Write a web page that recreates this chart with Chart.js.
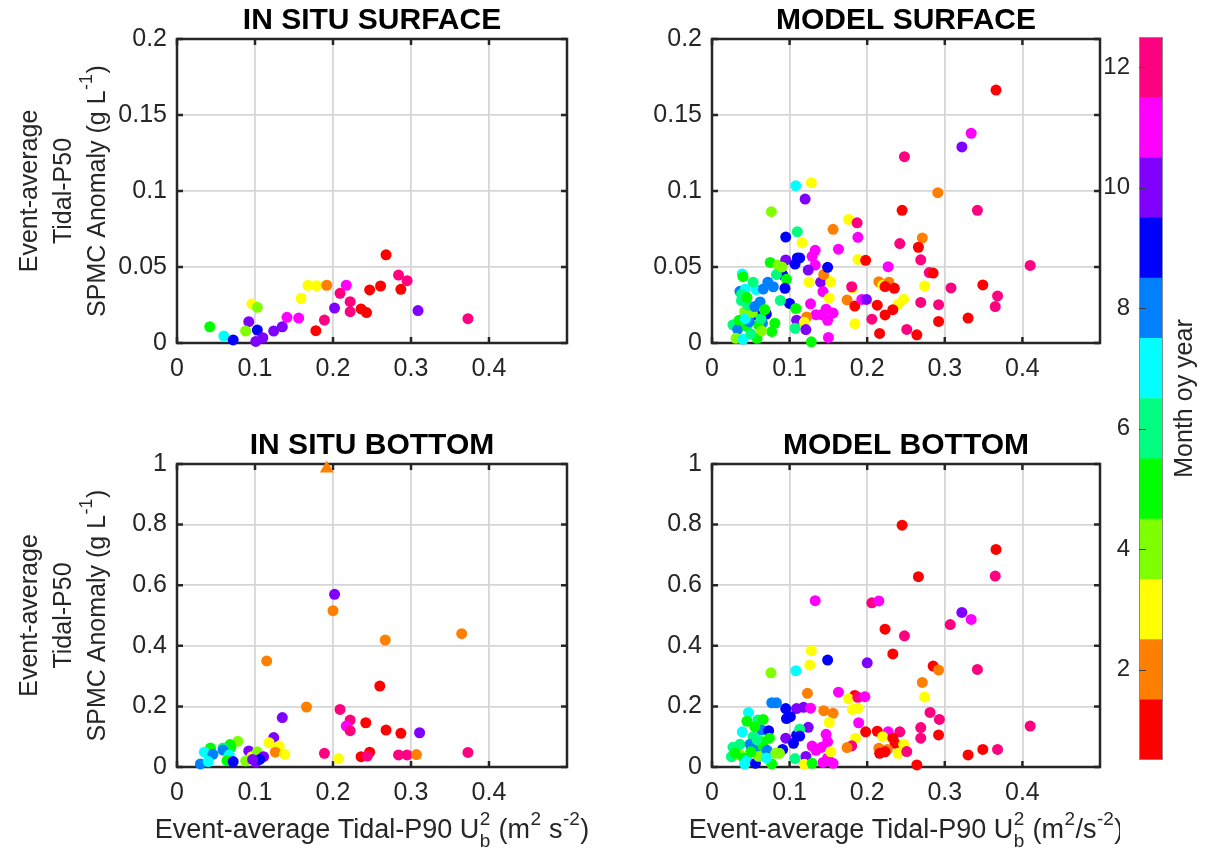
<!DOCTYPE html>
<html>
<head>
<meta charset="utf-8">
<script src="https://cdn.jsdelivr.net/npm/chart.js@4.4.0/dist/chart.umd.min.js"></script>
<style>
  body { margin: 0; background: #fff; width: 1207px; height: 858px; overflow: hidden; position: relative; }
</style>
</head>
<body>
<script>
// ---- tick labels ----
const xTickVals = [0, 0.1, 0.2, 0.3, 0.4];
const xTickLabels = ['0', '0.1', '0.2', '0.3', '0.4'];
const ySurfTickVals = [0, 0.05, 0.1, 0.15, 0.2];
const ySurfTickLabels = ['0', '0.05', '0.1', '0.15', '0.2'];
const yBotTickVals = [0, 0.2, 0.4, 0.6, 0.8, 1];
const yBotTickLabels = ['0', '0.2', '0.4', '0.6', '0.8', '1'];
const cbTickVals = [2, 4, 6, 8, 10, 12];
const cbTickLabels = ['2', '4', '6', '8', '10', '12'];

// month of year -> colour (hsv, 12 steps)
const months = [1, 2, 3, 4, 5, 6, 7, 8, 9, 10, 11, 12];
const monthColors = ['#ff0000', '#ff8000', '#ffff00', '#80ff00', '#00ff00', '#00ff80',
                     '#00ffff', '#0080ff', '#0000ff', '#8000ff', '#ff00ff', '#ff0080'];

// ---- IN SITU SURFACE ----
const isSurfX = [0.042,0.060,0.072,0.092,0.096,0.103,0.088,0.103,0.101,0.110,0.124,0.135,0.141,0.156,0.159,0.168,0.179,0.192,0.178,0.189,0.202,0.217,0.209,0.222,0.222,0.236,0.243,0.247,0.261,0.268,0.284,0.295,0.287,0.309,0.373];
const isSurfY = [0.0107,0.0046,0.002,0.014,0.0257,0.0235,0.0079,0.0085,0.001,0.0035,0.0079,0.0107,0.0169,0.0164,0.0294,0.038,0.0377,0.038,0.0081,0.0151,0.023,0.038,0.0327,0.0272,0.0206,0.0224,0.020,0.0349,0.0375,0.058,0.0447,0.041,0.0353,0.0213,0.016];
const isSurfM = [5,7,9,10,3,4,4,9,10,10,10,10,11,11,3,3,3,2,1,12,10,11,12,12,12,1,1,1,1,1,12,12,1,10,12];

// ---- MODEL SURFACE ----
const mdSurfX = [0.039,0.040,0.036,0.043,0.057,0.038,0.066,0.072,0.079,0.0765,0.075,0.085,0.095,0.095,0.110,0.108,0.107,0.110,0.091,0.096,0.094,0.100,0.108,0.109,0.056,0.070,0.062,0.065,0.027,0.033,0.031,0.040,0.058,0.077,0.107,0.042,0.038,0.045,0.060,0.063,0.048,0.035,0.043,0.052,0.046,0.055,0.068,0.050,0.064,0.081,0.088,0.083,0.090,0.053,0.045,
  0.366,0.334,0.322,0.248,0.291,0.128,0.120,0.245,0.342,0.176,0.187,0.156,0.116,0.188,0.163,0.133,0.129,0.133,0.113,0.124,0.140,0.125,0.153,0.144,0.149,0.143,0.151,0.188,0.198,0.227,0.242,0.271,0.266,0.269,0.280,0.285,0.274,0.308,0.349,0.368,0.365,0.215,0.220,0.228,0.223,0.235,0.247,0.240,0.233,0.213,0.223,0.206,0.216,0.251,0.264,0.269,0.292,0.292,0.330,0.174,0.184,0.193,0.199,0.181,0.180,0.184,0.127,0.147,0.156,0.134,0.149,0.141,0.122,0.119,0.121,0.150,0.128,0.410];
const mdSurfY = [0.0454,0.0436,0.034,0.0355,0.0351,0.032,0.0355,0.040,0.037,0.0864,0.053,0.0513,0.0546,0.0697,0.0732,0.1035,0.0519,0.056,0.045,0.0419,0.036,0.026,0.0227,0.015,0.0187,0.019,0.027,0.013,0.012,0.009,0.0031,0.0024,0.0031,0.0075,0.0097,0.0206,0.0279,0.011,0.012,0.016,0.014,0.015,0.016,0.020,0.025,0.024,0.022,0.006,0.008,0.013,0.028,0.045,0.050,0.040,0.030,
  0.1664,0.138,0.129,0.1226,0.0989,0.1055,0.0947,0.0873,0.0873,0.0813,0.0791,0.0748,0.066,0.0695,0.0617,0.061,0.057,0.0513,0.056,0.048,0.040,0.040,0.0403,0.0451,0.0498,0.0338,0.0295,0.0550,0.0544,0.0502,0.0654,0.0691,0.063,0.0547,0.0463,0.046,0.0375,0.0362,0.0382,0.031,0.024,0.0403,0.038,0.040,0.0371,0.036,0.0288,0.0255,0.0219,0.0249,0.0185,0.0157,0.0063,0.0089,0.0054,0.0267,0.0252,0.0142,0.0164,0.0283,0.0243,0.0287,0.0287,0.036,0.037,0.0127,0.0258,0.0222,0.0197,0.0186,0.0149,0.0186,0.0171,0.0136,0.0088,0.0037,0.0008,0.051];
const mdSurfM = [7,5,8,7,7,6,8,8,8,4,5,4,10,9,6,7,9,9,9,5,9,9,5,10,9,9,8,8,6,8,4,7,5,5,6,4,6,5,5,6,8,5,7,4,6,8,5,6,4,5,6,6,4,6,5,
  1,11,10,12,2,3,10,1,12,3,12,2,3,11,11,11,11,11,9,10,10,3,3,2,9,11,3,3,1,11,12,2,1,12,12,1,3,12,1,12,12,2,3,2,1,1,3,3,1,1,1,12,1,12,1,12,12,1,1,2,1,11,10,3,12,3,11,11,11,11,11,11,2,3,10,11,5,12];

// ---- IN SITU BOTTOM ----
const isBotX = [0.202,0.200,0.267,0.115,0.260,0.166,0.209,0.135,0.222,0.217,0.222,0.242,0.268,0.287,0.311,0.124,0.118,0.131,0.126,0.138,0.189,0.207,0.236,0.247,0.244,0.284,0.295,0.307,0.078,0.068,0.069,0.043,0.059,0.035,0.046,0.059,0.067,0.030,0.040,0.064,0.072,0.092,0.096,0.103,0.088,0.101,0.111,0.106,0.097,0.373,0.365];
const isBotY = [0.570,0.516,0.419,0.350,0.267,0.198,0.190,0.163,0.155,0.135,0.120,0.146,0.122,0.111,0.113,0.097,0.080,0.069,0.049,0.042,0.045,0.028,0.034,0.049,0.036,0.040,0.040,0.041,0.085,0.074,0.065,0.063,0.063,0.049,0.042,0.056,0.040,0.010,0.018,0.021,0.018,0.053,0.034,0.050,0.020,0.016,0.034,0.025,0.025,0.048,0.440];
const isBotM = [10,2,2,2,1,2,12,10,12,11,12,1,1,1,10,10,3,3,2,3,12,3,1,1,12,12,12,2,4,5,5,5,6,7,8,8,7,8,7,5,9,10,3,4,4,10,10,9,10,12,2];
// value above the axis limit, shown as a triangle at the top
const isBotOverX = [0.192];
const isBotOverY = [0.985];
const isBotOverM = [2];

// ---- MODEL BOTTOM ----
const mdBotX = [0.076,0.108,0.077,0.083,0.095,0.109,0.096,0.101,0.047,0.045,0.059,0.066,0.064,0.073,0.039,0.055,0.053,0.074,0.095,0.105,0.109,0.107,0.091,0.087,0.027,0.025,0.036,0.036,0.041,0.049,0.045,0.055,0.066,0.056,0.042,0.077,0.069,0.060,0.071,0.082,0.050,0.062,0.030,0.070,0.058,
  0.245,0.366,0.365,0.266,0.133,0.206,0.215,0.322,0.334,0.307,0.223,0.248,0.233,0.128,0.126,0.149,0.200,0.285,0.292,0.342,0.271,0.274,0.123,0.163,0.184,0.176,0.188,0.197,0.118,0.127,0.144,0.156,0.181,0.188,0.151,0.189,0.281,0.293,0.124,0.113,0.113,0.147,0.149,0.198,0.213,0.227,0.242,0.220,0.233,0.236,0.247,0.269,0.269,0.292,0.185,0.180,0.174,0.215,0.226,0.216,0.223,0.240,0.251,0.264,0.330,0.349,0.368,0.129,0.134,0.141,0.143,0.156,0.149,0.121,0.119,0.129,0.153,0.410];
const mdBotY = [0.311,0.318,0.212,0.212,0.193,0.193,0.160,0.166,0.180,0.151,0.155,0.157,0.122,0.120,0.116,0.133,0.100,0.095,0.095,0.078,0.105,0.028,0.058,0.045,0.065,0.034,0.075,0.040,0.029,0.075,0.022,0.055,0.068,0.012,0.010,0.010,0.045,0.035,0.055,0.045,0.050,0.085,0.045,0.030,0.090,
  0.798,0.718,0.630,0.628,0.549,0.542,0.548,0.510,0.487,0.470,0.455,0.433,0.373,0.384,0.337,0.353,0.344,0.333,0.320,0.322,0.279,0.231,0.243,0.247,0.236,0.225,0.230,0.232,0.197,0.194,0.186,0.177,0.190,0.194,0.147,0.146,0.180,0.157,0.131,0.125,0.102,0.108,0.083,0.116,0.118,0.116,0.116,0.100,0.095,0.078,0.075,0.130,0.095,0.106,0.095,0.070,0.064,0.062,0.058,0.045,0.050,0.045,0.051,0.007,0.040,0.058,0.058,0.069,0.055,0.065,0.015,0.012,0.030,0.035,0.009,0.012,0.050,0.135];
const mdBotM = [4,7,8,8,9,10,9,9,7,5,6,5,8,9,7,5,6,5,10,9,9,6,9,4,6,6,6,4,5,8,7,8,5,9,7,5,6,4,8,4,5,5,5,7,6,
  1,1,12,1,11,12,11,10,11,12,1,12,1,3,3,9,10,1,2,12,2,3,2,11,1,3,12,11,10,11,2,2,3,3,3,11,12,12,10,6,9,11,11,1,1,11,12,3,1,1,3,12,12,1,3,12,2,2,2,1,1,3,12,1,1,1,12,11,11,11,11,11,11,10,3,5,3,12];

// ---- drawing ----
const FONT = '"Liberation Sans", Arial, Helvetica, sans-serif';
Chart.defaults.font.family = FONT;
Chart.defaults.color = '#262626';

function addCanvas(x0, y0, x1, y1) {
  const c = document.createElement('canvas');
  c.width = x1 - x0;
  c.height = y1 - y0;
  c.style.cssText = 'position:absolute;left:' + x0 + 'px;top:' + y0 + 'px;width:' + (x1 - x0) + 'px;height:' + (y1 - y0) + 'px';
  document.body.appendChild(c);
  return c;
}

// text with super/subscripts; parts are strings or {sup, sub}
function drawRich(ctx, parts, cx, cy, size, rot) {
  const small = Math.round(size * 0.72);
  ctx.save();
  ctx.translate(cx, cy);
  ctx.rotate(rot);
  let w = 0;
  const segs = parts.map(p => {
    let pw;
    if (typeof p === 'string') {
      ctx.font = size + 'px ' + FONT;
      pw = ctx.measureText(p).width;
    } else {
      ctx.font = small + 'px ' + FONT;
      pw = Math.max(p.sup ? ctx.measureText(p.sup).width : 0, p.sub ? ctx.measureText(p.sub).width : 0) + 1;
    }
    w += pw;
    return { p, pw };
  });
  let x = -w / 2;
  ctx.textBaseline = 'middle';
  ctx.textAlign = 'left';
  ctx.fillStyle = '#262626';
  segs.forEach(s => {
    if (typeof s.p === 'string') {
      ctx.font = size + 'px ' + FONT;
      ctx.fillText(s.p, x, 0);
    } else {
      ctx.font = small + 'px ' + FONT;
      if (s.p.sup) ctx.fillText(s.p.sup, x + 0.5, -size * 0.42);
      if (s.p.sub) ctx.fillText(s.p.sub, x + 0.5, size * 0.4);
    }
    x += s.pw;
  });
  ctx.restore();
}

// box + inward tick marks, under the markers
const framePlugin = {
  id: 'frame',
  beforeDatasetsDraw(chart) {
    const { ctx, chartArea: a, scales: { x, y } } = chart;
    ctx.save();
    ctx.strokeStyle = '#262626';
    ctx.lineWidth = 2.5;
    ctx.beginPath();
    x.ticks.forEach(t => {
      const px = x.getPixelForValue(t.value);
      ctx.moveTo(px, a.bottom); ctx.lineTo(px, a.bottom - 6);
      ctx.moveTo(px, a.top); ctx.lineTo(px, a.top + 6);
    });
    y.ticks.forEach(t => {
      const py = y.getPixelForValue(t.value);
      ctx.moveTo(a.left, py); ctx.lineTo(a.left + 6, py);
      ctx.moveTo(a.right, py); ctx.lineTo(a.right - 6, py);
    });
    ctx.stroke();
    ctx.strokeRect(a.left, a.top, a.right - a.left, a.bottom - a.top);
    ctx.restore();
  }
};

function textPlugin(p) {
  return {
    id: 'panelText',
    afterDraw(chart) {
      const { ctx, chartArea: a } = chart;
      ctx.save();
      ctx.fillStyle = '#000';
      ctx.font = 'bold 30px ' + FONT;
      ctx.textAlign = 'center';
      ctx.textBaseline = 'middle';
      ctx.fillText(p.title, (a.left + a.right) / 2, a.top - 18);
      ctx.restore();
      const midY = (a.top + a.bottom) / 2;
      if (p.ylabel) {
        p.ylabel.forEach((line, i) => drawRich(ctx, line, p.ylabelX[i] - p.box[0], midY, 25, -Math.PI / 2));
      }
      if (p.xlabel) {
        drawRich(ctx, p.xlabel, (a.left + a.right) / 2, a.bottom + 64, 27, 0);
      }
    }
  };
}

function scatterPanel(p) {
  const cv = addCanvas(p.box[0], p.box[1], p.box[2], p.box[3]);
  const a = p.area;
  const datasets = [{
    data: p.xs.map((x, i) => ({ x: x, y: p.ys[i] })),
    pointBackgroundColor: p.ms.map(m => monthColors[m - 1]),
    pointBorderWidth: 0,
    pointRadius: 5.5,
    clip: false
  }];
  if (p.over) {
    datasets.push({
      data: p.over.xs.map((x, i) => ({ x: x, y: p.over.ys[i] })),
      pointBackgroundColor: p.over.ms.map(m => monthColors[m - 1]),
      pointStyle: 'triangle',
      pointBorderWidth: 0,
      pointRadius: 8,
      clip: false
    });
  }
  new Chart(cv, {
    type: 'scatter',
    data: { datasets },
    options: {
      responsive: false,
      animation: false,
      events: [],
      layout: { padding: { left: 0, bottom: 0, top: a[1] - p.box[1], right: p.box[2] - a[2] } },
      plugins: { legend: { display: false }, tooltip: { enabled: false } },
      scales: {
        x: {
          type: 'linear', min: 0, max: 0.5,
          afterBuildTicks: s => { s.ticks = xTickVals.map(v => ({ value: v })); },
          afterFit: s => { s.height = p.box[3] - a[3]; },
          ticks: { font: { size: 25 }, padding: 11, maxRotation: 0, autoSkip: false,
                   callback: (v, i) => xTickLabels[i] },
          grid: { color: '#d6d6d6', lineWidth: 1.8, drawTicks: false },
          border: { display: false }
        },
        y: {
          type: 'linear', min: p.yVals[0], max: p.yVals[p.yVals.length - 1],
          afterBuildTicks: s => { s.ticks = p.yVals.map(v => ({ value: v })); },
          afterFit: s => { s.width = a[0] - p.box[0]; },
          ticks: { font: { size: 25 }, padding: 10, autoSkip: false,
                   callback: (v, i) => p.yLabels[i] },
          grid: { color: '#d6d6d6', lineWidth: 1.8, drawTicks: false },
          border: { display: false }
        }
      }
    },
    plugins: [framePlugin, textPlugin(p)]
  });
}

const yLab = [
  ['Event-average'],
  ['Tidal-P50'],
  ['SPMC Anomaly (g L', { sup: '-1' }, ')']
];
const yLabX = [30, 64, 98];

scatterPanel({ title: 'IN SITU SURFACE', box: [0, 0, 600, 400], area: [177, 39, 567, 343],
  xs: isSurfX, ys: isSurfY, ms: isSurfM, yVals: ySurfTickVals, yLabels: ySurfTickLabels,
  ylabel: yLab, ylabelX: yLabX });
scatterPanel({ title: 'MODEL SURFACE', box: [620, 0, 1120, 400], area: [712, 39, 1100, 343],
  xs: mdSurfX, ys: mdSurfY, ms: mdSurfM, yVals: ySurfTickVals, yLabels: ySurfTickLabels });
scatterPanel({ title: 'IN SITU BOTTOM', box: [0, 400, 600, 858], area: [177, 464, 567, 767],
  xs: isBotX, ys: isBotY, ms: isBotM, yVals: yBotTickVals, yLabels: yBotTickLabels,
  over: { xs: isBotOverX, ys: isBotOverY, ms: isBotOverM },
  ylabel: yLab, ylabelX: yLabX,
  xlabel: ['Event-average Tidal-P90 U', { sup: '2', sub: 'b' }, ' (m', { sup: '2' }, ' s', { sup: '-2' }, ')'] });
scatterPanel({ title: 'MODEL BOTTOM', box: [620, 400, 1120, 858], area: [712, 464, 1100, 767],
  xs: mdBotX, ys: mdBotY, ms: mdBotM, yVals: yBotTickVals, yLabels: yBotTickLabels,
  xlabel: ['Event-average Tidal-P90 U', { sup: '2', sub: 'b' }, ' (m', { sup: '2' }, '/s', { sup: '-2' }, ')'] });

// ---- colour bar ----
const cbBox = [1100, 0, 1207, 800];
const cbArea = [1139, 37, 1163, 760];
const cbPlugin = {
  id: 'cbFrame',
  afterDatasetsDraw(chart) {
    const { ctx, chartArea: a, scales: { y } } = chart;
    ctx.save();
    ctx.strokeStyle = '#8a8a8a';
    ctx.lineWidth = 1;
    ctx.strokeRect(a.left + 0.5, a.top + 0.5, a.right - a.left - 1, a.bottom - a.top - 1);
    ctx.strokeStyle = '#404040';
    ctx.beginPath();
    cbTickVals.forEach(v => {
      const py = Math.round(y.getPixelForValue(v)) + 0.5;
      ctx.moveTo(a.left, py); ctx.lineTo(a.left + 7, py);
    });
    ctx.stroke();
    ctx.translate(1185 - cbBox[0], (a.top + a.bottom) / 2);
    ctx.rotate(-Math.PI / 2);
    ctx.fillStyle = '#262626';
    ctx.font = '25px ' + FONT;
    ctx.textAlign = 'center';
    ctx.textBaseline = 'middle';
    ctx.fillText('Month oy year', 0, 0);
    ctx.restore();
  }
};
new Chart(addCanvas(cbBox[0], cbBox[1], cbBox[2], cbBox[3]), {
  type: 'bar',
  data: {
    labels: [''],
    datasets: months.map((m, i) => ({
      data: [[m - 0.5, m + 0.5]],
      backgroundColor: monthColors[i],
      borderWidth: 0,
      barPercentage: 1,
      categoryPercentage: 1,
      grouped: false
    }))
  },
  options: {
    responsive: false,
    animation: false,
    events: [],
    layout: { padding: { left: 0, top: cbArea[1] - cbBox[1], right: cbBox[2] - cbArea[2], bottom: cbBox[3] - cbArea[3] } },
    plugins: { legend: { display: false }, tooltip: { enabled: false } },
    scales: {
      x: { display: false },
      y: {
        min: 0.5, max: 12.5,
        afterBuildTicks: s => { s.ticks = cbTickVals.map(v => ({ value: v })); },
        afterFit: s => { s.width = cbArea[0] - cbBox[0]; },
        ticks: { font: { size: 24 }, padding: 9, autoSkip: false, callback: (v, i) => cbTickLabels[i] },
        grid: { display: false, drawTicks: false },
        border: { display: false }
      }
    }
  },
  plugins: [cbPlugin]
});
</script>
</body>
</html>
